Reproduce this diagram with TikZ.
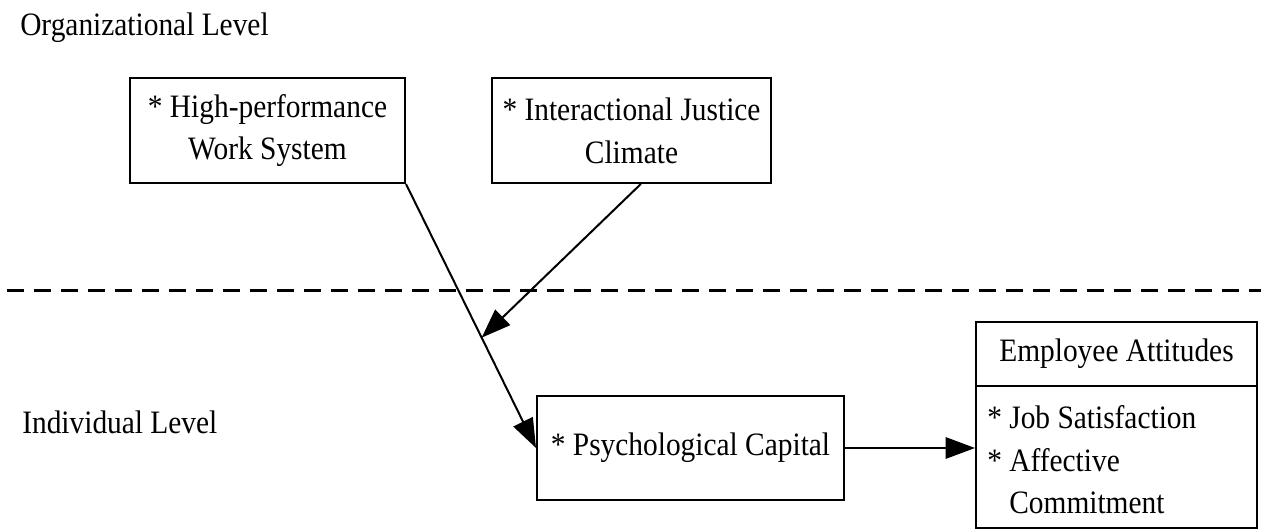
\documentclass[tikz,border=0pt]{standalone}
\usepackage{fontspec}
\setmainfont{Liberation Serif}[FakeStretch=0.9]
\usetikzlibrary{arrows.meta,calc}
\begin{document}
\begin{tikzpicture}[x=0.75pt,y=-0.75pt,
  every node/.style={font=\fontsize{24.5pt}{32pt}\selectfont},
  box/.style={draw,line width=1.5pt,inner sep=0pt,align=center},
  conn/.style={line width=1.5pt,-{Triangle[length=22pt,width=16pt]}},
  lvl/.style={inner sep=0pt,anchor=base west}]
\useasboundingbox (0,0) rectangle (1261,529);
\node[lvl] (org) at (20,35) {Organizational Level};
\node[lvl] (ind) at (22,433) {Individual Level};
\node[box,minimum width=206.25pt,minimum height=78.75pt] (hp) at (267.5,130.5) {* High-performance\\Work System};
\node[box,minimum width=209.25pt,minimum height=78.75pt] (ij) at (631.5,130.5) {* Interactional Justice\\Climate};
\node[box,minimum width=230.25pt,minimum height=78pt] (pc) at (690.5,448) {* Psychological Capital};
\node[box,minimum width=210.75pt,minimum height=48pt] (eah) at (1116.5,354) {Employee Attitudes};
\node[box,minimum width=210.75pt,minimum height=106.5pt] (eab) at (1116.5,457) {};
\node[inner sep=0pt,anchor=west,align=left] (eat) at ([xshift=9pt,yshift=-2pt]eab.west) {* Job Satisfaction\\[0pt]* Affective\\[0pt]\phantom{* }Commitment};
\coordinate (dl) at (7,290.5);
\coordinate (dr) at (1261,290.5);
\draw[line width=2.2pt,dash pattern=on 12.75pt off 7.5pt] (dl) -- (dr);
\coordinate (mid) at ($(hp.south east)!0.582!(pc.west)$);
\draw[conn] (hp.south east) -- (pc.west);
\draw[conn] ([xshift=7pt]ij.south) -- (mid);
\draw[conn] (pc.east) -- (pc.east -| eab.west);
\end{tikzpicture}
\end{document}
